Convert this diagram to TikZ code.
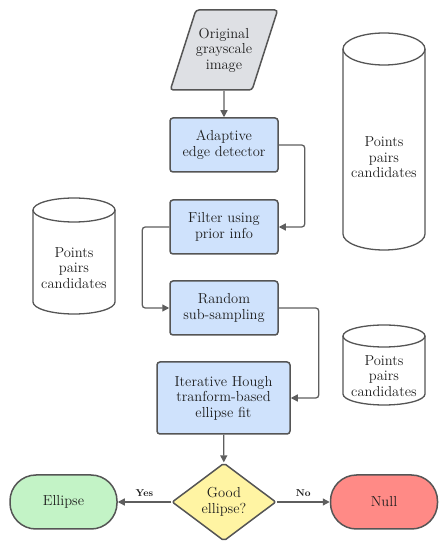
\documentclass[tikz,border=0pt]{standalone}
\usepackage{xcolor}
\usetikzlibrary{shapes.geometric,arrows.meta,positioning}

\definecolor{edgegray}{HTML}{555555}
\definecolor{linegray}{HTML}{5E5E5E}
\definecolor{txtgray}{HTML}{1E1E1E}
\definecolor{boxblue}{HTML}{CFE2FC}
\definecolor{inputgray}{HTML}{DEE0E4}
\definecolor{decyellow}{HTML}{FFF4A3}
\definecolor{yesgreen}{HTML}{C3F3C6}
\definecolor{nullred}{HTML}{FF8A86}

\tikzset{
  base/.style={draw=edgegray, line width=1.5pt, text=txtgray, align=center,
    font=\fontsize{14.5}{15.5}\selectfont, inner sep=2pt},
  procbox/.style={base, fill=boxblue, rounded corners=3pt,
    minimum width=108pt, minimum height=54pt},
  inputbox/.style={base, fill=inputgray, shape=trapezium, rounded corners=3pt,
    trapezium left angle=62, trapezium right angle=118, inner xsep=0pt,
    trapezium stretches body=true, minimum width=100pt, minimum height=80pt},
  decision/.style={base, fill=decyellow, shape=diamond, rounded corners=2pt,
    minimum width=104pt, minimum height=78pt, inner sep=0pt},
  terminal/.style={base, rounded corners=26pt, minimum width=107pt, minimum height=54pt},
  store/.style={draw=edgegray, line width=1.3pt},
  storetext/.style={text=txtgray, align=center, font=\fontsize{14.5}{15.5}\selectfont},
  flow/.style={draw=linegray, line width=1.3pt, rounded corners=3pt,
    -{Triangle[length=7pt,width=7pt]}},
  answer/.style={text=txtgray, font=\bfseries\fontsize{10}{12}\selectfont}
}

% cylinder: name, x centre, top, bottom, end radius
\newcommand{\pointstore}[5]{
  \draw[store] ({#2-41},{#3-#5}) -- ({#2-41},{#4+#5})
    arc[start angle=180, end angle=360, x radius=41, y radius=#5]
    -- ({#2+41},{#3-#5});
  \draw[store] (#2,{#3-#5}) ellipse [x radius=41, y radius=#5];
  \node[storetext] (#1) at (#2,{(#3-2*#5+#4)/2}) {Points\\pairs\\candidates};
}

\begin{document}
\begin{tikzpicture}[x=1pt, y=1pt]
  \useasboundingbox (0,0) rectangle (446,550);

  % main chain
  \node[inputbox] (orig) at (224,500) {Original\\grayscale\\image};
  \node[procbox] (adapt) at (224,405) {Adaptive\\edge detector};
  \node[procbox] (filter) at (224,323) {Filter using\\prior info};
  \node[procbox] (rand) at (224,242) {Random\\sub-sampling};
  \node[procbox, minimum width=133pt, minimum height=72pt] (hough) at (223.5,152)
    {Iterative Hough\\tranform-based\\ellipse fit};
  \node[decision] (good) at (224,48) {Good\\ellipse?};

  % outcomes
  \node[terminal, fill=yesgreen] (ell) at (63.5,48) {Ellipse};
  \node[terminal, fill=nullred] (null) at (384,48) {Null};

  % stores
  \pointstore{bigstore}{384}{517}{300}{16}
  \pointstore{leftstore}{74}{352}{236}{12}
  \pointstore{smallstore}{384}{225}{145}{11}

  % connectors
  \draw[flow] (orig) -- (adapt);
  \draw[flow] (adapt.east) -- ++(26,0) |- (filter.east);
  \draw[flow] (filter.west) -- ++(-27,0) |- (rand.west);
  \draw[flow] (rand.east) -- ++(40,0) |- (hough.east);
  \draw[flow] (hough) -- (good);
  \draw[flow] (good.west) -- (ell.east) node[answer, midway, above=1pt] {Yes};
  \draw[flow] (good.east) -- (null.west) node[answer, midway, above=1pt] {No};
\end{tikzpicture}
\end{document}
